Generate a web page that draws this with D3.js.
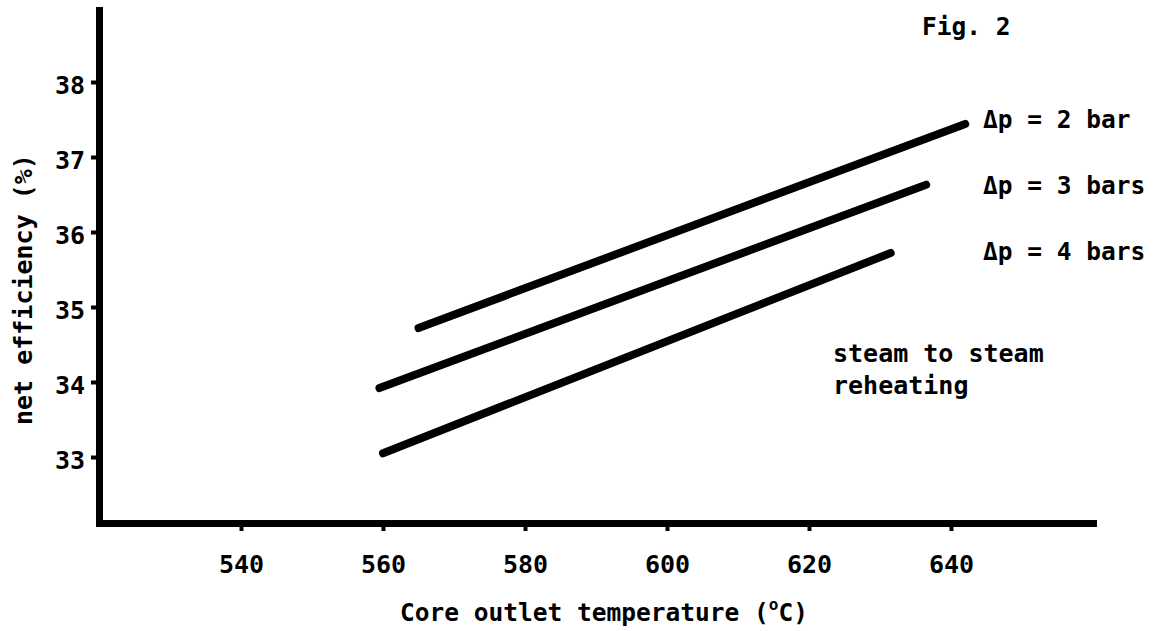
<!DOCTYPE html>
<html>
<head>
<meta charset="utf-8">
<script src="https://cdn.jsdelivr.net/npm/d3@7"></script>
<style>
  body { margin: 0; background: #fff; }
  text { font-family: 'DejaVu Sans Mono', 'Liberation Mono', monospace; font-weight: bold; fill: #000; }
</style>
</head>
<body>
<script>
/* global d3 */

// Data
const seriesNames = ['Δp = 2 bar', 'Δp = 3 bars', 'Δp = 4 bars'];
const dp2Temp = [565, 642];
const dp2Eff = [34.72, 37.44];
const dp3Temp = [559.5, 636.5];
const dp3Eff = [33.92, 36.63];
const dp4Temp = [560, 631.5];
const dp4Eff = [33.05, 35.72];
const xTicks = [540, 560, 580, 600, 620, 640];
const yTicks = [33, 34, 35, 36, 37, 38];

// SVG setup
const width = 1155;
const height = 631;

const svg = d3.select('body')
.append('svg')
.attr('width', width)
.attr('height', height);

const xScale = d3.scaleLinear()
.domain([520, 660])
.range([99, 1093]);

const yScale = d3.scaleLinear()
.domain([32.12, 38.96])
.range([523, 10]);

// Axes
const xAxis = svg.append('g')
.attr('transform', `translate(0, ${ yScale.range()[0] })`)
.call(d3.axisBottom(xScale).tickValues(xTicks).tickFormat(d3.format('d'))
.tickSize(8).tickSizeOuter(0).tickPadding(24));

const yAxis = svg.append('g')
.attr('transform', `translate(${ xScale.range()[0] }, 0)`)
.call(d3.axisLeft(yScale).tickValues(yTicks).tickFormat(d3.format('d'))
.tickSize(8).tickSizeOuter(0).tickPadding(6));

[xAxis, yAxis].forEach(axis => {
    axis.select('.domain')
    .attr('stroke', '#000')
    .attr('stroke-width', 7)
    .attr('stroke-linecap', 'square');
    axis.selectAll('.tick line')
    .attr('stroke', '#000')
    .attr('stroke-width', 4);
    axis.selectAll('.tick text')
    .attr('font-family', "'DejaVu Sans Mono', monospace")
    .attr('font-weight', 'bold')
    .attr('font-size', '25px')
    .attr('fill', '#000');
});

yAxis.selectAll('.tick text').attr('dy', '0.45em');

// Axis titles
const xTitle = svg.append('text')
.attr('x', 400)
.attr('y', 621)
.attr('font-size', '24.5px')
.text('Core outlet temperature (');
xTitle.append('tspan')
.attr('font-size', '16px')
.attr('dy', -11)
.text('o');
xTitle.append('tspan')
.attr('dy', 11)
.text('C)');

svg.append('text')
.attr('transform', 'translate(32, 425) rotate(-90)')
.attr('font-size', '25px')
.text('net efficiency (%)');

// Lines
const series = [
    { name: seriesNames[0], temp: dp2Temp, eff: dp2Eff },
    { name: seriesNames[1], temp: dp3Temp, eff: dp3Eff },
    { name: seriesNames[2], temp: dp4Temp, eff: dp4Eff }
];

const line = d3.line()
.x(d => xScale(d[0]))
.y(d => yScale(d[1]));

svg.selectAll('path.series')
.data(series)
.enter()
.append('path')
.attr('class', 'series')
.attr('d', s => line(d3.zip(s.temp, s.eff)))
.attr('fill', 'none')
.attr('stroke', '#000')
.attr('stroke-width', 8)
.attr('stroke-linecap', 'round');

// Series labels
svg.selectAll('text.label')
.data(series)
.enter()
.append('text')
.attr('class', 'label')
.attr('x', 983)
.attr('y', (s, i) => 128 + i * 66)
.attr('font-size', '24.5px')
.text(s => s.name);

// Annotations
svg.append('text')
.attr('x', 922)
.attr('y', 35)
.attr('font-size', '24.5px')
.text('Fig. 2');

svg.append('text')
.attr('x', 833)
.attr('y', 362)
.attr('font-size', '25px')
.text('steam to steam');

svg.append('text')
.attr('x', 833)
.attr('y', 394)
.attr('font-size', '25px')
.text('reheating');
</script>
</body>
</html>
